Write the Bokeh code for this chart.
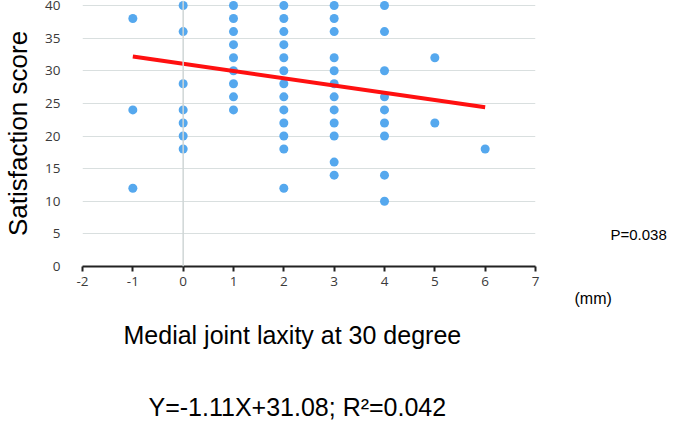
from bokeh.plotting import figure
from bokeh.models import Range1d, FixedTicker, Span, Title, LinearAxis, ColumnDataSource
from bokeh.embed import file_html
from bokeh.resources import INLINE

# Data
laxity = ([-1] * 3 + [0] * 7 + [1] * 9 + [2] * 13 + [3] * 12 + [4] * 9 + [5] * 2 + [6] * 1)
score = ([38, 24, 12] +
         [40, 36, 28, 24, 22, 20, 18] +
         [40, 38, 36, 34, 32, 30, 28, 26, 24] +
         [40, 38, 36, 34, 32, 30, 28, 26, 24, 22, 20, 18, 12] +
         [40, 38, 36, 32, 30, 28, 26, 24, 22, 20, 16, 14] +
         [40, 36, 30, 26, 24, 22, 20, 14, 10] +
         [32, 22] +
         [18])
slope = -1.11
intercept = 31.08
fit_x = [-1, 6]
fit_y = [slope * v + intercept for v in fit_x]
x_ticks = [-2, -1, 0, 1, 2, 3, 4, 5, 6, 7]
y_ticks = [0, 5, 10, 15, 20, 25, 30, 35, 40]
y_grid = [5, 10, 15, 20, 25, 30, 35, 40]
x_title = "Medial joint laxity at 30 degree"
y_title = "Satisfaction score"
unit_text = "(mm)"
p_text = "P=0.038"
eq_text = "Y=-1.11X+31.08; R\u00b2=0.042"

W, H = 669, 424
FL, FR, FB, FT = 78, 537, 266, 0   # frame edges in figure px
X0, X1 = -2, 7
Y_TOP_PAD = 5                      # px between frame top and the 40 gridline
yscale = (FB - FT - Y_TOP_PAD) / 40.0

p = figure(width=W, height=H, output_backend="svg", toolbar_location=None,
           x_range=Range1d(X0, X1), y_range=Range1d(0, 40 + Y_TOP_PAD / yscale),
           min_border_left=FL, min_border_right=W - FR,
           min_border_top=FT, min_border_bottom=H - FB)
p.outline_line_color = None
p.background_fill_color = "white"
p.border_fill_color = "white"

TICK_FONT = "Open Sans"
TICK_SIZE = "13.5px"
TICK_COLOR = "#3a3a3a"

# grids
p.xgrid.grid_line_color = None
p.ygrid.ticker = FixedTicker(ticks=y_grid)
p.ygrid.grid_line_color = "#d9dfdf"
p.ygrid.grid_line_width = 1.2
p.add_layout(Span(location=0, dimension="height", line_color="#cfd6d6", line_width=1.5))

# x axis
xa = p.xaxis[0]
xa.ticker = FixedTicker(ticks=x_ticks)
xa.major_label_overrides = {t: str(t) for t in x_ticks}
xa.axis_line_color = "#222222"
xa.axis_line_width = 2
xa.major_tick_line_color = "#222222"
xa.major_tick_line_width = 2
xa.major_tick_out = 5
xa.major_tick_in = 0
xa.minor_tick_line_color = None
xa.major_label_standoff = 5
xa.major_label_text_font = TICK_FONT
xa.major_label_text_font_size = TICK_SIZE
xa.major_label_text_color = TICK_COLOR

# y axis
ya = p.yaxis[0]
ya.ticker = FixedTicker(ticks=y_ticks)
ya.axis_line_color = None
ya.major_tick_line_color = None
ya.minor_tick_line_color = None
ya.major_tick_out = 0
ya.major_tick_in = 0
ya.major_label_standoff = 22
ya.major_label_text_font = TICK_FONT
ya.major_label_text_font_size = TICK_SIZE
ya.major_label_text_color = TICK_COLOR
ya.axis_label = y_title
ya.axis_label_text_font = "Liberation Sans"
ya.axis_label_text_font_size = "26px"
ya.axis_label_text_font_style = "normal"
ya.axis_label_text_color = "black"
ya.axis_label_standoff = 9

# right-hand note (P value) as a tick label of an invisible right axis
p_pos = (FB - 234) / yscale
ra = LinearAxis(ticker=FixedTicker(ticks=[p_pos]),
                major_label_overrides={p_pos: p_text},
                axis_line_color=None, major_tick_line_color=None,
                minor_tick_line_color=None, major_tick_in=0, major_tick_out=0,
                major_label_standoff=75,
                major_label_text_font="Liberation Sans",
                major_label_text_font_size="15px",
                major_label_text_color="black")
p.add_layout(ra, "right")

src = ColumnDataSource(data=dict(x=laxity, y=score))
p.scatter("x", "y", source=src, size=9, fill_color="#55a8ee", line_color=None)
p.line(fit_x, fit_y, line_color="#ff1010", line_width=4)

def below_title(text, left_px, size, standoff):
    t = Title(text=text, align="left", offset=left_px - FL, standoff=standoff,
              vertical_align="middle",
              text_font="Liberation Sans", text_font_size=size,
              text_font_style="normal", text_color="black")
    p.add_layout(t, "below")

def below_gap(px):
    # spacer: a blank axis whose only tick is white on white, with no label
    g = LinearAxis(ticker=FixedTicker(ticks=[X1]), major_label_overrides={X1: ""},
                   axis_line_color=None,
                   major_tick_line_color="white", minor_tick_line_color=None,
                   major_tick_in=0, major_tick_out=px, minor_tick_out=0,
                   major_label_standoff=0, major_label_text_font_size="1px")
    p.add_layout(g, "below")

below_title(unit_text, 570, "16px", 0)
below_title(x_title, 119, "25px", 24)
below_gap(36)
below_title(eq_text, 144, "25px", -11)

open("out.html", "w").write(file_html(p, INLINE))
